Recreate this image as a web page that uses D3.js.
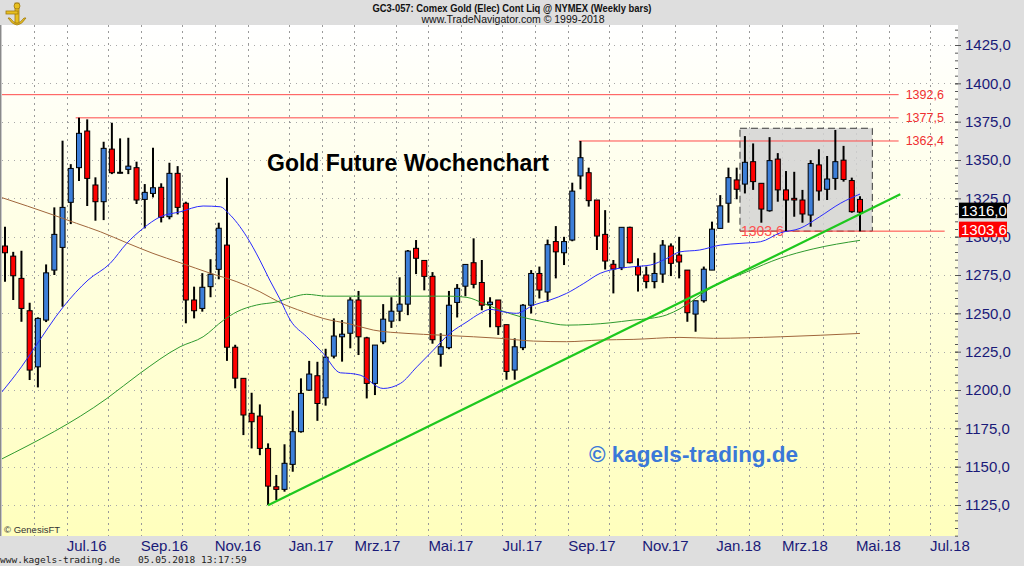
<!DOCTYPE html>
<html>
<head>
<meta charset="utf-8">
<script src="https://cdn.jsdelivr.net/npm/d3@7"></script>
<style>
  body { margin: 0; background: #dedede; }
  svg { display: block; }
</style>
</head>
<body>
<svg id="chart" width="1024" height="566"></svg>
<script>
// Weekly bars, Friday dates, first bar 6 May 2016
const firstBar = new Date(2016, 4, 6);

const opens = [1293.9,1287.3,1272.8,1251.7,1215.1,1245.6,1278.2,1293.0,1322.4,1345.0,
  1368.9,1333.7,1322.8,1357.1,1341.5,1343.9,1345.0,1324.3,1328.2,1332.2,
  1313.0,1341.3,1321.8,1258.7,1253.2,1267.4,1278.7,1294.5,1227.9,1207.6,
  1184.8,1183.0,1161.9,1136.9,1135.2,1151.5,1172.8,1199.9,1209.3,1194.9,
  1222.1,1234.7,1237.0,1258.7,1234.0,1204.3,1231.4,1244.9,1251.4,1256.0,
  1292.4,1284.5,1274.1,1223.3,1227.6,1257.1,1267.7,1283.0,1270.1,1255.7,
  1258.7,1242.6,1213.0,1227.6,1255.3,1276.0,1263.9,1296.8,1289.5,1297.8,
  1339.6,1341.7,1323.9,1301.5,1282.0,1279.8,1306.1,1280.5,1275.0,1270.7,
  1275.6,1293.9,1288.0,1278.2,1249.5,1258.2,1278.2,1305.4,1321.8,1337.0,
  1334.3,1348.9,1334.8,1316.9,1350.6,1330.5,1325.0,1323.9,1314.1,1346.8,
  1330.9,1338.0,1349.9,1336.6,1324.3];
const highs = [1306.5,1290.1,1290.8,1256.9,1247.4,1281.9,1319.1,1362.6,1347.3,1377.6,
  1376.5,1338.7,1361.9,1374.3,1364.1,1364.5,1348.9,1334.3,1358.0,1334.8,
  1348.2,1346.0,1322.8,1267.4,1276.2,1285.3,1309.1,1338.4,1229.5,1207.7,
  1198.2,1190.6,1165.2,1144.6,1164.6,1186.5,1207.6,1219.0,1218.4,1226.9,
  1246.7,1245.6,1260.5,1264.6,1234.7,1229.3,1256.0,1260.5,1273.5,1291.3,
  1297.8,1284.5,1276.9,1237.0,1264.6,1269.1,1281.9,1298.9,1284.8,1260.5,
  1258.7,1242.6,1233.7,1256.0,1278.2,1280.5,1298.1,1306.9,1299.9,1335.2,
  1362.4,1345.0,1323.9,1317.3,1284.8,1306.1,1306.5,1285.9,1280.5,1289.5,
  1297.8,1295.6,1299.9,1278.2,1258.2,1280.5,1309.8,1327.1,1345.0,1345.0,
  1365.6,1360.8,1334.8,1364.9,1354.5,1342.8,1342.3,1330.5,1349.9,1357.0,
  1352.6,1369.6,1359.2,1338.5,1326.4];
const lows = [1270.6,1258.7,1244.5,1206.5,1201.7,1244.3,1275.0,1254.3,1308.2,1336.3,
  1320.0,1310.4,1310.8,1340.8,1341.3,1340.8,1321.3,1305.4,1325.6,1309.3,
  1311.3,1314.5,1243.5,1246.7,1251.1,1260.5,1272.2,1219.0,1201.1,1170.6,
  1161.9,1157.5,1124.9,1128.2,1133.7,1146.7,1172.2,1199.5,1179.9,1189.8,
  1220.6,1218.5,1227.2,1222.8,1194.5,1196.7,1229.9,1240.5,1244.9,1248.8,
  1275.6,1265.0,1230.2,1215.2,1226.6,1247.3,1261.1,1266.3,1252.0,1240.9,
  1235.9,1206.7,1206.7,1226.0,1249.9,1259.7,1257.5,1272.8,1281.5,1297.0,
  1330.9,1319.6,1291.3,1278.6,1263.0,1278.2,1282.6,1264.2,1266.3,1266.3,
  1269.9,1274.3,1272.8,1244.5,1238.0,1257.0,1278.2,1305.4,1309.1,1324.4,
  1328.2,1330.5,1309.1,1316.3,1322.8,1303.6,1313.0,1309.1,1306.5,1323.5,
  1323.9,1330.5,1335.9,1315.6,1303.6];
const closes = [1289.5,1274.5,1253.2,1213.0,1246.7,1276.4,1301.5,1319.1,1344.5,1367.4,
  1338.0,1322.8,1357.6,1341.7,1342.0,1346.0,1323.9,1328.9,1331.9,1312.6,
  1341.3,1319.1,1258.7,1251.7,1267.0,1275.5,1305.5,1227.9,1207.7,1183.7,
  1179.3,1161.9,1137.3,1135.2,1152.2,1172.8,1197.8,1210.4,1191.2,1221.4,
  1235.2,1236.4,1258.7,1234.7,1204.3,1229.3,1246.2,1251.4,1256.0,1290.6,
  1285.9,1274.1,1232.8,1228.2,1255.3,1266.3,1281.9,1268.9,1255.3,1257.3,
  1241.3,1212.1,1228.2,1255.3,1276.0,1265.2,1294.8,1290.1,1296.8,1329.7,
  1351.5,1323.5,1300.4,1284.1,1278.9,1306.1,1283.0,1275.0,1270.7,1276.0,
  1294.5,1282.6,1283.5,1250.4,1258.2,1278.8,1304.9,1320.1,1338.5,1330.9,
  1348.5,1335.9,1318.0,1349.6,1330.5,1323.9,1323.9,1314.8,1347.7,1329.8,
  1337.6,1348.9,1337.3,1316.3,1316.0];

// moving averages: [bar, value]
const blueAvg = [[-0.4,1198.6],[2,1215.1],[3.4,1226],[7.1,1254.3],[10.1,1271.7],[12.8,1282.6],
  [14.8,1295.6],[16.8,1305.4],[18.9,1313],[21.3,1316.2],[24.1,1320],[26.2,1319.5],[27.2,1315.2],
  [29.4,1300],[31,1284.7],[32.2,1271.7],[33.5,1258.7],[34.7,1245.6],[36.7,1234.7],[38.7,1223.9],
  [40.8,1211.2],[42,1210.8],[43.2,1209.7],[46,1201],[48.1,1204.3],[50.1,1215.1],[52.1,1226],
  [54.1,1236.9],[56.2,1244.5],[57.8,1250],[59,1252.6],[60.6,1251],[62.2,1250],[64.3,1255.4],
  [66.3,1258.7],[68.3,1263],[70.4,1269.5],[72.4,1276.1],[73.6,1278.2],[76.4,1280.4],[78.5,1281.5],
  [80.5,1285.8],[82.1,1290.1],[84.5,1291.3],[87,1294.5],[89.4,1295.6],[91.9,1296.7],[94.3,1302.5],
  [96.7,1305.4],[99.1,1313],[101.6,1321.7],[104,1327.8]];
const greenAvg = [[-0.4,1155],[12.4,1194.5],[16.4,1210.8],[21.3,1228.2],[24.1,1234.7],[26.6,1245.6],
  [28.2,1251],[30.6,1255.4],[33.1,1257.5],[35.1,1260.8],[36.7,1262.4],[39.1,1261.2],[42,1261.2],
  [54.1,1261.2],[56.2,1260.4],[58.2,1256.5],[60.2,1252.1],[62.7,1247.8],[65.5,1244.5],[68.3,1242.3],
  [71.2,1242.8],[73.6,1243.8],[76.4,1245.6],[78.5,1246.7],[80.5,1249],[82.1,1253],[86.1,1267.3],
  [90.2,1277],[94.3,1286],[98.3,1292],[104,1297.6]];
const brownAvg = [[-0.4,1325.5],[5.9,1314.1],[8.7,1308.7],[11.6,1303.2],[14.8,1296],[18,1289.1],
  [21.3,1283],[25,1276.1],[28.2,1270.6],[31,1264.1],[33.5,1256.9],[36.3,1251],[38.7,1246.7],
  [42,1243],[44.8,1239.1],[48.9,1236.9],[52.9,1235.8],[57,1234.7],[60.2,1233.7],[64.3,1231.9],
  [68.3,1231.5],[72.4,1232.6],[76.4,1233],[82.1,1234.3],[86.2,1233.7],[94.3,1234.7],[104,1236.9]];

const trendLine = [[32, 1124.9], [108.9, 1327.6]];

// horizontal levels and the bar each one starts from
const levels = [1392.6, 1377.5, 1362.4];
const levelStart = [-0.4, 8.6, 69.8];
const levelEnd = 108.7;

// grey range box
const boxBars = [89.4, 105.5];
const boxValues = [1303.6, 1370.7];
const boxLineEnd = 114.3;

const lastClose = 1316.0;
const rangeLow = 1303.6;

const yTicks = d3.range(1125, 1426, 25);
const yMinor = d3.range(1105, 1436, 5);
const xTickLabels = ["Jul.16","Sep.16","Nov.16","Jan.17","Mrz.17","Mai.17","Jul.17",
  "Sep.17","Nov.17","Jan.18","Mrz.18","Mai.18","Jul.18"];

const svg = d3.select("#chart");
const plot = { left: 2, right: 958, top: 25, bottom: 536 };

const x = d3.scaleLinear().domain([0, 104]).range([5, 860]);
const y = d3.scaleLinear().domain([1125, 1425]).range([505, 45]);
const fmt = (v) => d3.format(".1f")(v).replace(".", ",");

// background
const defs = svg.append("defs");
const grad = defs.append("linearGradient").attr("id", "bg")
  .attr("x1", 0).attr("y1", 0).attr("x2", 0).attr("y2", 1);
grad.append("stop").attr("offset", "0%").attr("stop-color", "#ffffff");
grad.append("stop").attr("offset", "100%").attr("stop-color", "#ffffbd");
defs.append("clipPath").attr("id", "clip").append("rect")
  .attr("x", plot.left).attr("y", plot.top)
  .attr("width", plot.right - plot.left).attr("height", plot.bottom - plot.top);

svg.append("rect").attr("width", 1024).attr("height", 566).attr("fill", "#dedede");
svg.append("rect")
  .attr("x", plot.left).attr("y", plot.top)
  .attr("width", plot.right - plot.left).attr("height", plot.bottom - plot.top)
  .attr("fill", "url(#bg)");
svg.append("line").attr("x1", 0.5).attr("x2", 0.5).attr("y1", plot.top).attr("y2", plot.bottom)
  .attr("stroke", "#8a8a8a").attr("stroke-width", 1.5);

const g = svg.append("g").attr("clip-path", "url(#clip)");

// month boundaries between weekly bars
const barDate = (i) => d3.timeDay.offset(firstBar, i * 7);
const boundaries = [];
for (let i = -1; i < 116; i++) {
  const a = barDate(i), b = barDate(i + 1);
  if (a.getMonth() !== b.getMonth()) boundaries.push({ pos: i + 0.5, month: b.getMonth() });
}

// grid
g.selectAll(".vgrid").data(boundaries).enter().append("line")
  .attr("x1", (d) => Math.round(x(d.pos)) + 0.5).attr("x2", (d) => Math.round(x(d.pos)) + 0.5)
  .attr("y1", plot.top).attr("y2", plot.bottom)
  .attr("stroke", "#9a9a9a").attr("stroke-dasharray", "2,4");
g.selectAll(".hgrid").data(yTicks).enter().append("line")
  .attr("x1", plot.left).attr("x2", plot.right)
  .attr("y1", (d) => Math.round(y(d)) + 0.5).attr("y2", (d) => Math.round(y(d)) + 0.5)
  .attr("stroke", "#a8a8a8").attr("stroke-dasharray", "1,5");

// range box
g.append("rect")
  .attr("x", x(boxBars[0])).attr("y", y(boxValues[1]))
  .attr("width", x(boxBars[1]) - x(boxBars[0]))
  .attr("height", y(boxValues[0]) - y(boxValues[1]))
  .attr("fill", "#d4d4d4").attr("fill-opacity", 0.85)
  .attr("stroke", "#3a3a3a").attr("stroke-dasharray", "7,4");
g.append("line")
  .attr("x1", x(boxBars[0])).attr("x2", x(boxLineEnd))
  .attr("y1", y(rangeLow)).attr("y2", y(rangeLow))
  .attr("stroke", "#ff4040");
g.append("text")
  .attr("x", x(boxBars[0]) + 1).attr("y", y(rangeLow) + 5)
  .attr("font-family", "Liberation Sans, Arial, sans-serif").attr("font-size", 14)
  .attr("fill", "#ff5050").text(fmt(rangeLow));

// level lines
levels.forEach((v, k) => {
  g.append("line")
    .attr("x1", x(levelStart[k])).attr("x2", x(levelEnd))
    .attr("y1", y(v)).attr("y2", y(v))
    .attr("stroke", "#ff4a4a");
  g.append("text")
    .attr("x", x(levelEnd) + 7).attr("y", y(v) + 4.5)
    .attr("font-family", "Liberation Sans, Arial, sans-serif").attr("font-size", 12.5)
    .attr("fill", "#f03030").text(fmt(v));
});

// candles
const bars = d3.range(opens.length);
const up = (i) => closes[i] >= opens[i];
g.selectAll(".wick").data(bars).enter().append("line")
  .attr("x1", (i) => x(i)).attr("x2", (i) => x(i))
  .attr("y1", (i) => y(highs[i])).attr("y2", (i) => y(lows[i]))
  .attr("stroke", "#000").attr("stroke-width", 2);
g.selectAll(".body").data(bars).enter().append("rect")
  .attr("x", (i) => x(i) - 2.5)
  .attr("y", (i) => y(Math.max(opens[i], closes[i])))
  .attr("width", 5)
  .attr("height", (i) => Math.max(1, Math.abs(y(opens[i]) - y(closes[i]))))
  .attr("fill", (i) => (up(i) ? "#3d7fd9" : "#ff0000"))
  .attr("stroke", "#000").attr("stroke-width", 1);

// moving averages
const line = d3.line().x((d) => x(d[0])).y((d) => y(d[1])).curve(d3.curveMonotoneX);
g.append("path").datum(brownAvg).attr("d", line).attr("fill", "none").attr("stroke", "#a0663c");
g.append("path").datum(greenAvg).attr("d", line).attr("fill", "none").attr("stroke", "#2f9a2f");
g.append("path").datum(blueAvg).attr("d", line).attr("fill", "none").attr("stroke", "#2a2aff");

// trend line
g.append("path").datum(trendLine).attr("d", d3.line().x((d) => x(d[0])).y((d) => y(d[1])))
  .attr("fill", "none").attr("stroke", "#1ec81e").attr("stroke-width", 2.2);

// texts in plot
svg.append("text").attr("x", 267).attr("y", 171)
  .attr("font-family", "Liberation Sans, Arial, sans-serif").attr("font-weight", "bold")
  .attr("font-size", 23).attr("fill", "#000").text("Gold Future Wochenchart");
svg.append("text").attr("x", 589).attr("y", 462)
  .attr("font-family", "Liberation Sans, Arial, sans-serif").attr("font-weight", "bold")
  .attr("font-size", 22.5).attr("fill", "#3a78d8").text("© kagels-trading.de");
svg.append("text").attr("x", 4).attr("y", 533)
  .attr("font-family", "Liberation Sans, Arial, sans-serif").attr("font-size", 9.5)
  .attr("fill", "#333").text("© GenesisFT");

// right axis
const axisG = svg.append("g").attr("transform", `translate(${plot.right - 3},0)`);
axisG.call(d3.axisRight(y).tickValues(yMinor).tickSize(3).tickFormat(""))
  .call((s) => s.select(".domain").remove())
  .call((s) => s.selectAll("line").attr("stroke", "#555"));
const axisMajor = svg.append("g").attr("transform", `translate(${plot.right - 3},0)`);
axisMajor.call(d3.axisRight(y).tickValues(yTicks).tickSize(6).tickPadding(4).tickFormat(fmt))
  .call((s) => s.select(".domain").remove())
  .call((s) => s.selectAll("line").attr("stroke", "#555"))
  .call((s) => s.selectAll("text")
    .attr("font-family", "Liberation Sans, Arial, sans-serif")
    .attr("font-size", 15).attr("fill", "#1a1a78"));

// price tags
[[lastClose, "#000000"], [rangeLow, "#ff0000"]].forEach(([v, col]) => {
  svg.append("rect").attr("x", 959).attr("y", y(v) - 9.5)
    .attr("width", 48).attr("height", 15.5).attr("fill", col);
  svg.append("text").attr("x", 961).attr("y", y(v) + 3.5)
    .attr("font-family", "Liberation Sans, Arial, sans-serif").attr("font-size", 15)
    .attr("fill", "#fff").text(fmt(v));
});

// bottom axis labels at every second month start
const labelled = boundaries.filter((d) => d.month % 2 === 0 && x(d.pos) > 40 && x(d.pos) < plot.right);
svg.selectAll(".xlab").data(labelled).enter().append("text")
  .attr("x", (d) => x(d.pos)).attr("y", 551)
  .attr("font-family", "Liberation Sans, Arial, sans-serif").attr("font-size", 15)
  .attr("fill", "#1a1a78")
  .text((d, k) => xTickLabels[k]);

// header
svg.append("text").attr("x", 512).attr("y", 11.5).attr("text-anchor", "middle")
  .attr("font-family", "Liberation Sans Narrow, Liberation Sans, Arial, sans-serif")
  .attr("font-size", 10.5).attr("font-weight", "bold").attr("fill", "#111")
  .attr("textLength", 279).attr("lengthAdjust", "spacingAndGlyphs")
  .text("GC3-057:  Comex Gold (Elec) Cont Liq @ NYMEX  (Weekly bars)");
svg.append("text").attr("x", 513).attr("y", 22.5).attr("text-anchor", "middle")
  .attr("font-family", "Liberation Sans Narrow, Liberation Sans, Arial, sans-serif")
  .attr("font-size", 10.5).attr("fill", "#111")
  .attr("textLength", 183).attr("lengthAdjust", "spacingAndGlyphs")
  .text("www.TradeNavigator.com © 1999-2018");

// footer
const mono = "DejaVu Sans Mono, Liberation Mono, monospace";
svg.append("text").attr("x", 0).attr("y", 563)
  .attr("font-family", mono).attr("font-size", 9.5).attr("fill", "#222")
  .text("www.kagels-trading.de");
svg.append("text").attr("x", 138).attr("y", 563)
  .attr("font-family", mono).attr("font-size", 9.5).attr("fill", "#222")
  .text("05.05.2018 13:17:59");

// logo
const logo = svg.append("g").attr("transform", "translate(4,2)")
  .attr("fill", "#e8c020").attr("stroke", "#a07a10").attr("stroke-width", 0.8);
logo.append("path").attr("d", "M4,16 Q13,30 22,16 L20,16 Q13,26 6,16 Z");
logo.append("rect").attr("x", 11).attr("y", 1).attr("width", 4).attr("height", 20);
logo.append("rect").attr("x", 2).attr("y", 9).attr("width", 12).attr("height", 3);
logo.append("circle").attr("cx", 13).attr("cy", 4).attr("r", 3);
</script>
</body>
</html>
